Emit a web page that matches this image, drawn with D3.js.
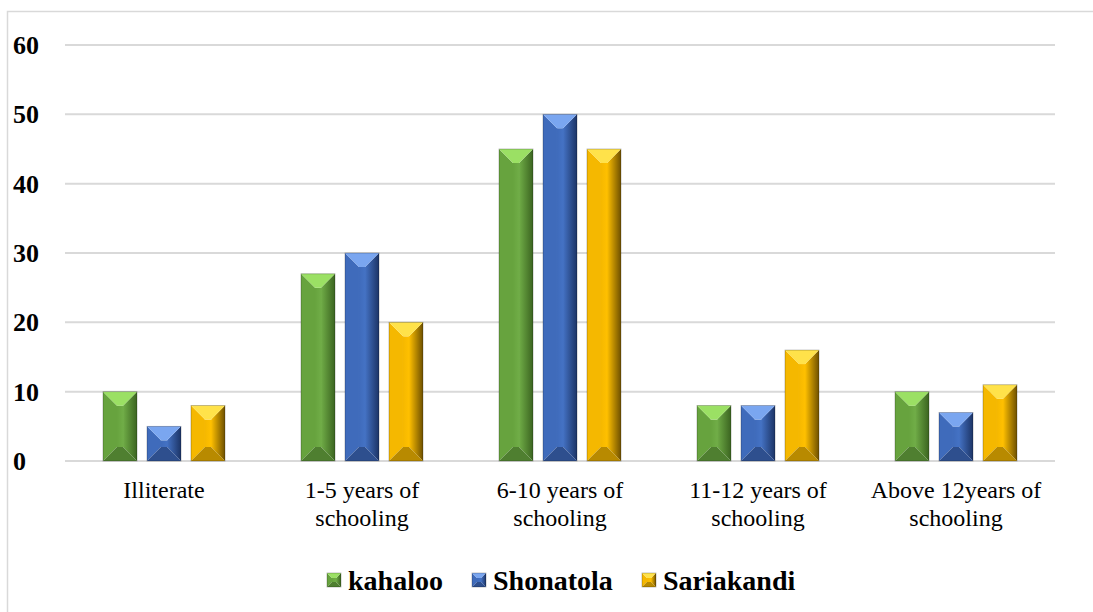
<!DOCTYPE html>
<html lang="en">
<head>
<meta charset="utf-8">
<title>Education level by area</title>
<script src="https://d3js.org/d3.v7.min.js"></script>
<style>
  body { margin: 0; background: #fff; }
  svg text { font-family: "Liberation Serif", "Times New Roman", serif; fill: #000; }
  .grid line { stroke: #d9d9d9; stroke-width: 2px; }
  .ytick { font-weight: bold; font-size: 26px; }
  .xlab { font-size: 24px; }
  .legend text { font-weight: bold; font-size: 28px; }
</style>
</head>
<body>
<script>
// data
var categories = ["Illiterate", "1-5 years of schooling", "6-10 years of schooling", "11-12 years of schooling", "Above 12years of schooling"];
var categoryLines = [["Illiterate"], ["1-5 years of", "schooling"], ["6-10 years of", "schooling"], ["11-12 years of", "schooling"], ["Above 12years of", "schooling"]];
var seriesNames = ["kahaloo", "Shonatola", "Sariakandi"];
var kahaloo = [10, 27, 45, 8, 10];
var shonatola = [5, 30, 50, 8, 7];
var sariakandi = [8, 20, 45, 16, 11];
var yTicks = [0, 10, 20, 30, 40, 50, 60];

var seriesValues = [kahaloo, shonatola, sariakandi];
var colors = [
  { base: "#70ad47", light: "#9be064", dark: "#3b6420", side: "#67a33e", bottom: "#4f7f30" },
  { base: "#4472c4", light: "#7aa6f0", dark: "#1c3466", side: "#3f6bbb", bottom: "#2e4f8e" },
  { base: "#ffc000", light: "#ffe24a", dark: "#6e5000", side: "#f5b800", bottom: "#b88a00" }
];

var w = 1093, h = 612;
var svg = d3.select("body").append("svg").attr("width", w).attr("height", h);
var defs = svg.append("defs");

// horizontal shading for the faces
colors.forEach(function(c, i) {
  var gr = defs.append("linearGradient").attr("id", "rg" + i).attr("x1", 0).attr("x2", 1).attr("y1", 0).attr("y2", 0);
  gr.append("stop").attr("offset", 0).attr("stop-color", c.base);
  gr.append("stop").attr("offset", 1).attr("stop-color", c.dark);
  var fg = defs.append("linearGradient").attr("id", "fg" + i).attr("x1", 0).attr("x2", 1).attr("y1", 0).attr("y2", 0);
  fg.append("stop").attr("offset", 0).attr("stop-color", c.side);
  fg.append("stop").attr("offset", 1).attr("stop-color", c.base);
});

// chart frame
svg.append("rect").attr("x", 7.5).attr("y", 11.5).attr("width", w).attr("height", h)
  .attr("fill", "none").attr("stroke", "#d9d9d9").attr("stroke-width", 1.5);

var x0 = d3.scaleBand().domain(categories).range([65, 1055]);
var x1 = d3.scaleBand().domain(seriesNames).range([0, 122]).paddingInner(0.227);
var y = d3.scaleLinear().domain([0, 60]).range([461, 45]);

// gridlines
svg.append("g").attr("class", "grid").selectAll("line").data(yTicks).enter().append("line")
  .attr("x1", 65).attr("x2", 1055)
  .attr("y1", function(d) { return y(d); }).attr("y2", function(d) { return y(d); });

// y labels
svg.append("g").selectAll("text").data(yTicks).enter().append("text")
  .attr("class", "ytick")
  .attr("x", 13).attr("y", function(d) { return y(d) + 9; })
  .text(function(d) { return d; });

// category labels
var xl = svg.append("g").selectAll("text").data(categories).enter().append("text")
  .attr("class", "xlab").attr("text-anchor", "middle")
  .attr("x", function(d) { return x0(d) + x0.bandwidth() / 2; })
  .attr("y", 498);
xl.selectAll("tspan").data(function(d, i) { return categoryLines[i]; }).enter().append("tspan")
  .attr("x", function() { var c = d3.select(this.parentNode).datum(); return x0(c) + x0.bandwidth() / 2; })
  .attr("dy", function(d, i) { return i === 0 ? 0 : 28; })
  .text(function(d) { return d; });

// beveled bar
function bevelBar(g, bx, by, bw, bh, c, ci) {
  var b = Math.min(14, bw / 2 - 2, bh / 2);
  var x2 = bx + bw, y2 = by + bh;
  var ix1 = bx + b, ix2 = x2 - b, iy1 = by + b, iy2 = y2 - b;
  var faces = [
    { pts: [[ix1, iy1], [ix2, iy1], [ix2, iy2], [ix1, iy2]], fill: "url(#fg" + ci + ")" },
    { pts: [[bx, by], [ix1, iy1], [ix1, iy2], [bx, y2]], fill: c.side },
    { pts: [[x2, by], [x2, y2], [ix2, iy2], [ix2, iy1]], fill: "url(#rg" + ci + ")" },
    { pts: [[bx, y2], [ix1, iy2], [ix2, iy2], [x2, y2]], fill: c.bottom },
    { pts: [[bx, by], [x2, by], [ix2, iy1], [ix1, iy1]], fill: c.light }
  ];
  g.selectAll(null).data(faces).enter().append("polygon")
    .attr("points", function(f) { return f.pts.map(function(p) { return p.join(","); }).join(" "); })
    .attr("fill", function(f) { return f.fill; });
  g.append("rect").attr("x", bx).attr("y", by).attr("width", bw).attr("height", bh)
    .attr("fill", "none").attr("stroke", "rgba(0,0,0,0.3)").attr("stroke-width", 0.8);
}

var groups = svg.append("g").selectAll("g").data(categories).enter().append("g")
  .attr("transform", function(d) { return "translate(" + (x0(d) + x0.bandwidth() / 2 - 61) + ",0)"; });

groups.each(function(cat, ci) {
  var g = d3.select(this);
  seriesNames.forEach(function(s, si) {
    var v = seriesValues[si][ci];
    bevelBar(g.append("g"), x1(s), y(v), x1.bandwidth(), y(0) - y(v), colors[si], si);
  });
});

// legend
var legendX = [327, 472, 642];
var leg = svg.append("g").attr("class", "legend");
seriesNames.forEach(function(s, i) {
  var lg = leg.append("g").attr("transform", "translate(" + legendX[i] + ",573)");
  bevelBar(lg, 0, 0, 14, 14, colors[i], i);
  lg.append("text").attr("x", 21).attr("y", 17).text(s);
});
</script>
</body>
</html>
